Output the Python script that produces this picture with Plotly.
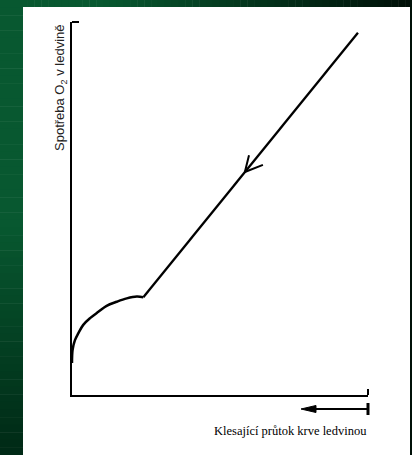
import plotly.graph_objects as go

W, H = 412, 455
L, R, T, B = 72, 44, 22, 60  # plot area: x 72..368, y 22..395

# curve data (arbitrary units: x = blood flow, y = O2 consumption)
arc_x = [0.0, 0.02, 0.10, 0.21, 0.38, 0.61, 0.89, 1.17, 1.51, 1.85, 2.19, 2.41]
arc_y = [0.86, 1.21, 1.47, 1.65, 1.88, 2.06, 2.23, 2.39, 2.50, 2.59, 2.64, 2.62]
line_x = [2.41, 9.66]
line_y = [2.62, 9.71]
# arrowhead on the line (open V)
head_x = [5.98, 5.84, 6.45]
head_y = [6.43, 5.98, 6.17]

x_title = "Klesající průtok krve ledvinou"
y_title = "Spotřeba O<sub>2</sub> v ledvině"

pw, ph = W - L - R, H - T - B


def px(x):
    return (x - L) / pw


def py(y):
    return (H - B - y) / ph


fig = go.Figure()
fig.add_trace(go.Scatter(x=arc_x, y=arc_y, mode="lines",
                         line=dict(color="black", width=2.5, shape="spline", smoothing=1.0),
                         hoverinfo="skip", showlegend=False))
fig.add_trace(go.Scatter(x=line_x, y=line_y, mode="lines",
                         line=dict(color="black", width=2.3),
                         hoverinfo="skip", showlegend=False))
fig.add_trace(go.Scatter(x=head_x, y=head_y, mode="lines",
                         line=dict(color="black", width=2),
                         hoverinfo="skip", showlegend=False))

shapes = []
# green gradient frame
g0 = (8, 88, 48)
g1 = (0, 16, 8)
gb = (0, 42, 22)
n = 60
for i in range(n):
    t = i / (n - 1)
    tt = max(0.0, (t - 0.25) / 0.75)
    c = tuple(int(g0[k] + (g1[k] - g0[k]) * tt) for k in range(3))
    x0 = W * i / n
    x1 = W * (i + 1) / n + 0.5
    shapes.append(dict(type="rect", xref="paper", yref="paper",
                       x0=px(x0), x1=px(x1), y0=py(0), y1=py(7), line_width=0,
                       fillcolor="rgb(%d,%d,%d)" % c, layer="below"))
for i in range(n):
    t = i / (n - 1)
    tt = max(0.0, (t - 0.5) / 0.5)
    c = tuple(int(g0[k] + (gb[k] - g0[k]) * tt) for k in range(3))
    y0 = H * i / n
    y1 = H * (i + 1) / n + 0.5
    shapes.append(dict(type="rect", xref="paper", yref="paper",
                       x0=px(0), x1=px(23), y0=py(y0), y1=py(y1), line_width=0,
                       fillcolor="rgb(%d,%d,%d)" % c, layer="below"))
shapes.append(dict(type="rect", xref="paper", yref="paper",
                   x0=px(410), x1=px(W + 1), y0=py(0), y1=py(H), line_width=0,
                   fillcolor="rgb(0,16,8)", layer="below"))
# small tick at top of y axis
shapes.append(dict(type="line", xref="paper", yref="paper",
                   x0=px(72), x1=px(79), y0=py(22), y1=py(22),
                   line=dict(color="black", width=2)))
# small up-tick at right end of x axis
shapes.append(dict(type="line", xref="paper", yref="paper",
                   x0=px(368), x1=px(368), y0=py(395), y1=py(389),
                   line=dict(color="black", width=2)))
# direction arrow under the x axis
shapes.append(dict(type="line", xref="paper", yref="paper",
                   x0=px(310), x1=px(368), y0=py(409), y1=py(409),
                   line=dict(color="black", width=2)))
shapes.append(dict(type="path", xref="paper", yref="paper",
                   path="M %f %f L %f %f L %f %f Z" % (px(301), py(409), px(316), py(405.5),
                                                       px(316), py(412.5)),
                   fillcolor="black", line=dict(color="black", width=1)))
shapes.append(dict(type="line", xref="paper", yref="paper",
                   x0=px(368), x1=px(368), y0=py(403), y1=py(415),
                   line=dict(color="black", width=3)))
fig.update_layout(shapes=shapes)

fig.add_annotation(xref="paper", yref="paper", x=px(369), y=py(431),
                   xanchor="right", yanchor="middle", showarrow=False,
                   text=x_title,
                   font=dict(family="Liberation Serif, serif", size=12.5, color="black"))
fig.add_annotation(xref="paper", yref="paper", x=px(60), y=py(88),
                   xanchor="center", yanchor="middle", showarrow=False,
                   textangle=-90, text=y_title,
                   font=dict(family="Liberation Sans, Arial, sans-serif", size=13, color="#222"))

fig.update_xaxes(range=[0, 10], showline=True, linecolor="black", linewidth=2,
                 showgrid=False, zeroline=False, showticklabels=False, ticks="")
fig.update_yaxes(range=[0, 10], showline=True, linecolor="black", linewidth=2,
                 showgrid=False, zeroline=False, showticklabels=False, ticks="")
fig.update_layout(width=W, height=H, margin=dict(l=L, r=R, t=T, b=B),
                  paper_bgcolor="white", plot_bgcolor="white",
                  showlegend=False)
fig.write_html("out.html", config={"displayModeBar": False},
               post_script="document.body.style.margin='0';document.body.style.padding='0';")
